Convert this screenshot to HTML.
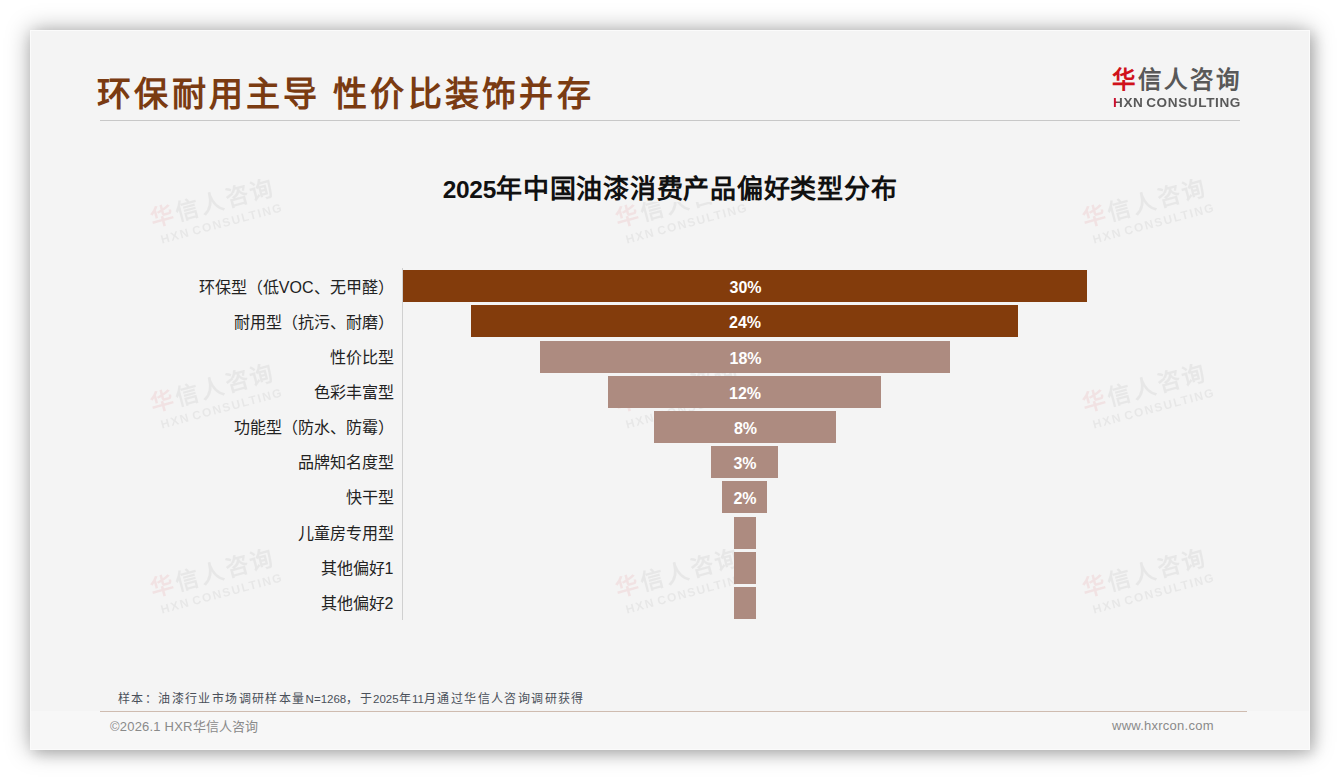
<!DOCTYPE html>
<html lang="zh-CN">
<head>
<meta charset="utf-8">
<style>
html,body{margin:0;padding:0;background:#fff;width:1340px;height:780px;overflow:hidden;}
body{font-family:"Liberation Sans",sans-serif;position:relative;}
.card{position:absolute;left:30px;top:30px;width:1280px;height:720px;background:#f4f4f4;box-shadow:0 0 22px rgba(0,0,0,0.34),4px 4px 12px rgba(0,0,0,0.14);overflow:hidden;}
.abs{position:absolute;white-space:nowrap;}
.title{left:67px;top:37px;font-size:34px;font-weight:bold;color:#7a3b12;letter-spacing:3.25px;}
.hr1{left:70px;top:90px;width:1140px;height:1px;background:#c8c8c8;}
.logo1{left:1082px;top:31px;font-size:23.5px;font-weight:bold;color:#595959;letter-spacing:3.1px;}
.logo1 .r{color:#d0121b;}
.logo2{left:1083px;top:66px;font-size:12px;font-weight:bold;color:#595959;letter-spacing:0.55px;word-spacing:-1.5px;transform:scaleX(1.13);transform-origin:0 0;}
.logo2 .h{background:linear-gradient(90deg,#c8102e 0,#c8102e 38%,#595959 38%);-webkit-background-clip:text;background-clip:text;color:transparent;}
.ctitle{left:0;width:1280px;text-align:center;top:138px;font-size:26px;font-weight:bold;color:#111;letter-spacing:0.75px;}
.ctbg{left:408px;top:136px;width:464px;height:36px;background:#f4f4f4;}
.ctitle .d{font-size:24.5px;letter-spacing:-0.3px;}
.axis{left:372px;top:238px;width:1px;height:352px;background:#d0d0d0;}
.lab{width:363.5px;left:0;text-align:right;font-size:16px;color:#222;margin-top:-3.5px;}
.bar{position:absolute;height:32px;}
.bar span{position:absolute;left:1px;right:0;top:2px;line-height:32px;text-align:center;color:#fff;font-weight:bold;font-size:16px;}
.dk{background:#833c0c;}
.lt{background:#ad8b80;}
.foot1{left:88px;top:659px;font-size:12px;color:#4a505a;letter-spacing:1.4px;}
.foot1 .d{letter-spacing:0;font-size:11.5px;}
.hr2{left:70px;top:680.5px;width:1147px;height:1.2px;background:#cfbcb0;}
.fband{left:0;top:681px;width:1280px;height:39px;background:#f7f7f7;}
.edge{position:absolute;left:0;top:0;width:1280px;height:720px;box-sizing:border-box;border:1px solid #fbfbfb;pointer-events:none;}
.foot2{left:80px;top:685.5px;font-size:13px;color:#8a8a8a;letter-spacing:0.2px;}
.foot3{left:1082px;top:687.5px;font-size:13px;color:#8a8a8a;letter-spacing:0.25px;}
.wm{position:absolute;width:140px;height:60px;margin-left:-70px;margin-top:-30px;transform:rotate(-15deg);opacity:0.075;white-space:nowrap;}
.wm .a{position:absolute;left:4px;top:0;font-size:23px;font-weight:bold;color:#555;letter-spacing:2.6px;line-height:30px;}
.wm .a .r{color:#d0121b;}
.wm .b{position:absolute;left:8px;top:30px;font-size:12px;font-weight:bold;color:#555;letter-spacing:1.5px;word-spacing:-2px;line-height:14px;}
</style>
</head>
<body>
<div class="card">
  <div class="abs fband"></div>
  <div class="wm" style="left:189px;top:187px"><div class="a"><span class="r">华</span>信人咨询</div><div class="b">HXN CONSULTING</div></div>
  <div class="wm" style="left:654px;top:187px"><div class="a"><span class="r">华</span>信人咨询</div><div class="b">HXN CONSULTING</div></div>
  <div class="wm" style="left:1121px;top:187px"><div class="a"><span class="r">华</span>信人咨询</div><div class="b">HXN CONSULTING</div></div>
  <div class="wm" style="left:189px;top:372px"><div class="a"><span class="r">华</span>信人咨询</div><div class="b">HXN CONSULTING</div></div>
  <div class="wm" style="left:654px;top:372px"><div class="a"><span class="r">华</span>信人咨询</div><div class="b">HXN CONSULTING</div></div>
  <div class="wm" style="left:1121px;top:372px"><div class="a"><span class="r">华</span>信人咨询</div><div class="b">HXN CONSULTING</div></div>
  <div class="wm" style="left:189px;top:557px"><div class="a"><span class="r">华</span>信人咨询</div><div class="b">HXN CONSULTING</div></div>
  <div class="wm" style="left:654px;top:557px"><div class="a"><span class="r">华</span>信人咨询</div><div class="b">HXN CONSULTING</div></div>
  <div class="wm" style="left:1121px;top:557px"><div class="a"><span class="r">华</span>信人咨询</div><div class="b">HXN CONSULTING</div></div>
  <div class="abs title">环保耐用主导 性价比装饰并存</div>
  <div class="abs hr1"></div>
  <div class="abs logo1"><span class="r">华</span>信人咨询</div>
  <div class="abs logo2"><span class="h">H</span>XN CONSULTING</div>
  <div class="abs ctbg"></div>
  <div class="abs ctitle"><span class="d">2025</span>年中国油漆消费产品偏好类型分布</div>
  <div class="abs axis"></div>

  <div class="abs lab" style="top:247px">环保型（低VOC、无甲醛）</div>
  <div class="abs lab" style="top:282px">耐用型（抗污、耐磨）</div>
  <div class="abs lab" style="top:317px">性价比型</div>
  <div class="abs lab" style="top:352px">色彩丰富型</div>
  <div class="abs lab" style="top:387px">功能型（防水、防霉）</div>
  <div class="abs lab" style="top:422px">品牌知名度型</div>
  <div class="abs lab" style="top:457px">快干型</div>
  <div class="abs lab" style="top:493px">儿童房专用型</div>
  <div class="abs lab" style="top:528px">其他偏好1</div>
  <div class="abs lab" style="top:563px">其他偏好2</div>

  <div class="bar dk" style="left:373px;width:684px;top:240px"><span>30%</span></div>
  <div class="bar dk" style="left:441px;width:547px;top:275px"><span>24%</span></div>
  <div class="bar lt" style="left:510px;width:410px;top:311px"><span>18%</span></div>
  <div class="bar lt" style="left:578px;width:273px;top:346px"><span>12%</span></div>
  <div class="bar lt" style="left:624px;width:182px;top:381px"><span>8%</span></div>
  <div class="bar lt" style="left:681px;width:67px;top:416px"><span>3%</span></div>
  <div class="bar lt" style="left:692px;width:45px;top:451px"><span>2%</span></div>
  <div class="bar lt" style="left:704px;width:22px;top:487px"></div>
  <div class="bar lt" style="left:704px;width:22px;top:522px"></div>
  <div class="bar lt" style="left:704px;width:22px;top:557px"></div>

  <div class="abs foot1">样本：油漆行业市场调研样本量<span class="d">N=1268</span>，于<span class="d">2025</span>年<span class="d">11</span>月通过华信人咨询调研获得</div>
  <div class="abs hr2"></div>
  <div class="abs foot2">©2026.1 HXR华信人咨询</div>
  <div class="abs foot3">www.hxrcon.com</div>
  <div class="edge"></div>
</div>
</body>
</html>
